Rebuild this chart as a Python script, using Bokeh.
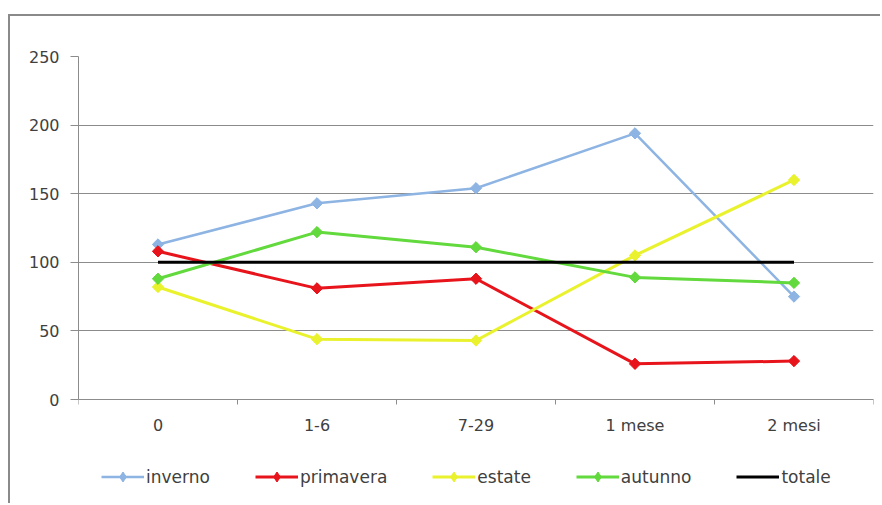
from bokeh.plotting import figure
from bokeh.models import FixedTicker, Legend, LegendItem, Range1d
from bokeh.embed import file_html
from bokeh.resources import INLINE
import math

categories = ["0", "1-6", "7-29", "1 mese", "2 mesi"]
inverno = [113, 143, 154, 194, 75]
primavera = [108, 81, 88, 26, 28]
estate = [82, 44, 43, 105, 160]
autunno = [88, 122, 111, 89, 85]
totale = [100, 100, 100, 100, 100]
y_ticks = [0, 50, 100, 150, 200, 250]
y_max = 250

FONT = "DejaVu Sans"
TXT = "#404040"
GRID = "#8c8c8c"

# layout (pixels): figure content starts at (10,16); plot area 0..250 spans 343 px,
# the frame is extended 106 px below the value 0 to host the x labels and legend.
PX_VALUE_SPAN = 343
PX_BELOW_ZERO = 106
y_start = -y_max * PX_BELOW_ZERO / PX_VALUE_SPAN

x = list(range(len(categories)))

p = figure(width=872, height=489, output_backend="svg", toolbar_location=None,
           x_axis_location="above",
           x_range=Range1d(-0.5, len(categories) - 0.5), y_range=Range1d(y_start, y_max),
           min_border_left=68, min_border_right=9, min_border_top=40, min_border_bottom=0)
p.margin = (14, 0, 0, 8)
p.styles = {"border-left": "2px solid #8a8a8a", "border-top": "2px solid #8a8a8a"}
p.outline_line_color = None
p.background_fill_color = "white"
p.border_fill_color = "white"

# y axis
p.yaxis.ticker = FixedTicker(ticks=y_ticks)
p.yaxis.bounds = (0, y_max)
p.yaxis.major_tick_out = 8
p.yaxis.major_tick_in = 0
p.yaxis.minor_tick_out = 0
p.yaxis.minor_tick_in = 0
p.yaxis.major_label_standoff = 11
p.yaxis.axis_line_color = GRID
p.yaxis.major_tick_line_color = GRID
p.yaxis.major_label_text_font = FONT
p.yaxis.major_label_text_font_size = "16px"
p.yaxis.major_label_text_color = TXT

# x axis drawn at value 0, ticks between categories pointing down, labels below
xa = p.xaxis[0]
xa.fixed_location = 0
xa.ticker = FixedTicker(ticks=x, minor_ticks=[i - 0.5 for i in range(len(categories) + 1)])
xa.major_label_overrides = {i: c for i, c in enumerate(categories)}
xa.major_tick_out = 0
xa.major_tick_in = 0
xa.minor_tick_out = 0
xa.minor_tick_in = 5
xa.minor_tick_line_color = GRID
xa.axis_line_color = GRID
xa.major_label_standoff = -35
xa.major_label_text_font = FONT
xa.major_label_text_font_size = "16px"
xa.major_label_text_color = TXT

p.xgrid.visible = False
p.ygrid.grid_line_color = GRID
p.ygrid.grid_line_width = 1

series = [
    ("inverno", inverno, "#8db4e2", 2.5, True),
    ("primavera", primavera, "#e8141c", 3, True),
    ("estate", estate, "#e9f22c", 3, True),
    ("autunno", autunno, "#62d93c", 3, True),
    ("totale", totale, "#000000", 3, False),
]

items = []
for name, vals, color, lw, mk in series:
    rs = [p.line(x, vals, line_color=color, line_width=lw)]
    if mk:
        # diamond (used by the legend) sits fully under the rotated-square marker
        rs.append(p.scatter(x, vals, marker="diamond", size=10,
                            fill_color=color, line_color=color))
        p.scatter(x, vals, marker="square", size=8, angle=math.pi / 4,
                  fill_color=color, line_color=color)
    items.append(LegendItem(label=name, renderers=rs))

legend = Legend(items=items, orientation="horizontal", location=(23, 16),
                glyph_width=43, glyph_height=25, label_height=25, label_standoff=2, spacing=45,
                padding=0, margin=0, border_line_color=None, background_fill_alpha=0,
                label_text_font=FONT, label_text_font_size="17px", label_text_color=TXT)
p.add_layout(legend, "center")

open("out.html", "w").write(file_html(p, INLINE))
